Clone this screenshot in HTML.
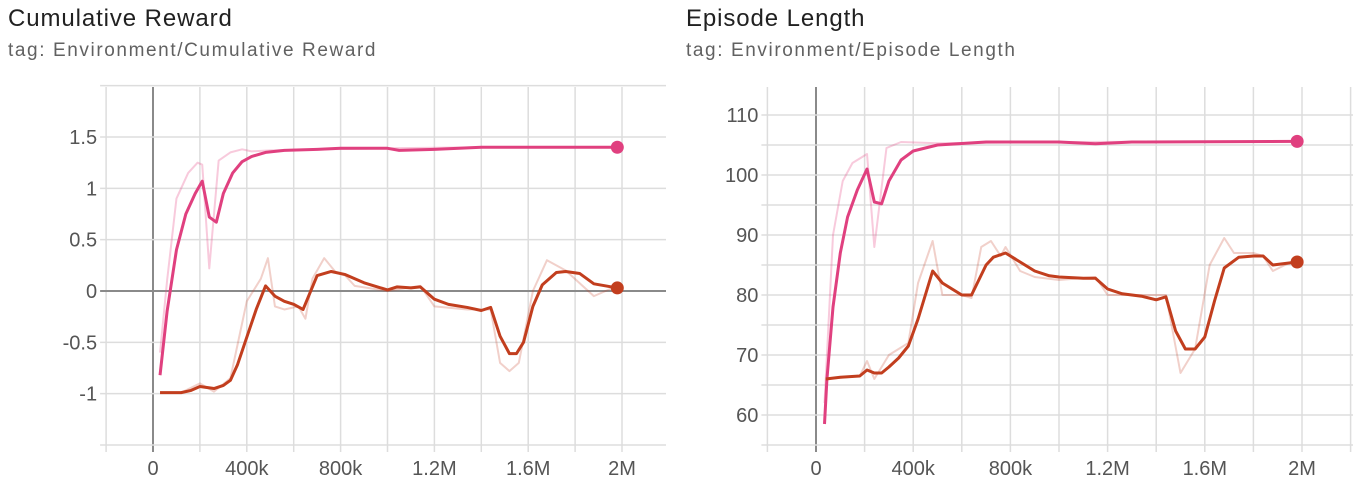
<!DOCTYPE html>
<html><head><meta charset="utf-8"><style>
html,body{margin:0;padding:0;background:#fff;width:1360px;height:496px;overflow:hidden;font-family:"Liberation Sans",sans-serif}
.t{position:absolute;font-size:24px;letter-spacing:0.9px;color:#212121}
.s{position:absolute;font-size:19px;letter-spacing:1.6px;color:#616161}
svg{position:absolute;left:0;top:0}
</style></head><body>
<div class="t" style="left:8px;top:5px">Cumulative Reward</div>
<div class="s" style="left:8px;top:40px">tag: Environment/Cumulative Reward</div>
<div class="t" style="left:686px;top:5px">Episode Length</div>
<div class="s" style="left:686px;top:40px">tag: Environment/Episode Length</div>
<svg id="c" width="1360" height="496"></svg>
<script>
const xTickLabels=["0","400k","800k","1.2M","1.6M","2M"];
const rwYTicks=[-1,-0.5,0,0.5,1,1.5];
const rwYLabels=["-1","-0.5","0","0.5","1","1.5"];
const lnYTicks=[60,70,80,90,100,110];
const lnYLabels=["60","70","80","90","100","110"];
// steps in thousands
const rwPinkX=[30,60,100,140,180,210,240,270,300,340,380,420,480,560,700,800,1000,1050,1200,1400,1600,1800,1980];
const rwPinkY=[-0.82,-0.2,0.4,0.75,0.95,1.07,0.72,0.67,0.95,1.15,1.26,1.31,1.35,1.37,1.38,1.39,1.39,1.37,1.38,1.40,1.40,1.40,1.40];
const rwPinkRawX=[30,60,100,150,190,210,240,280,330,380,420,500,700,1000,1400,1980];
const rwPinkRawY=[-0.6,0.1,0.9,1.15,1.25,1.23,0.22,1.27,1.35,1.38,1.36,1.37,1.38,1.39,1.40,1.40];
const rwRedX=[30,120,160,200,230,260,300,330,360,400,440,480,520,560,600,640,700,760,820,900,1000,1040,1100,1140,1200,1260,1340,1400,1440,1480,1520,1550,1580,1620,1660,1720,1760,1820,1880,1980];
const rwRedY=[-0.99,-0.99,-0.97,-0.93,-0.94,-0.95,-0.92,-0.87,-0.72,-0.45,-0.18,0.05,-0.05,-0.1,-0.13,-0.18,0.15,0.19,0.16,0.08,0.01,0.04,0.03,0.04,-0.08,-0.13,-0.16,-0.19,-0.16,-0.44,-0.61,-0.61,-0.5,-0.15,0.06,0.18,0.19,0.17,0.07,0.03];
const rwRedRawX=[30,120,200,260,330,400,460,490,520,560,620,650,680,730,780,820,860,1000,1140,1200,1340,1440,1480,1520,1560,1620,1680,1720,1760,1880,1980];
const rwRedRawY=[-0.99,-0.99,-0.9,-0.98,-0.85,-0.1,0.12,0.32,-0.15,-0.18,-0.15,-0.27,0.12,0.32,0.18,0.15,0.05,0.0,0.05,-0.15,-0.18,-0.18,-0.7,-0.78,-0.7,0.0,0.3,0.25,0.2,-0.05,0.05];
const lnPinkX=[35,45,70,100,130,170,210,240,270,300,350,400,500,700,1000,1150,1300,1980];
const lnPinkY=[58.5,66,78,87,93,97.5,101,95.5,95.2,99,102.5,104,105,105.5,105.5,105.2,105.5,105.6];
const lnPinkRawX=[35,70,110,150,210,240,290,350,500,1000,1980];
const lnPinkRawY=[62,90,99,102,103.5,88,104.5,105.5,105.3,105.5,105.6];
const lnRedX=[40,100,180,210,240,270,300,340,380,420,480,520,560,600,640,700,730,780,840,900,960,1000,1100,1150,1200,1260,1340,1400,1440,1480,1520,1560,1600,1640,1680,1740,1800,1840,1880,1980];
const lnRedY=[66,66.3,66.5,67.5,67,67,68,69.5,71.5,76,84,82,81,80,80,85,86.3,87,85.5,84,83.2,83,82.8,82.8,81,80.2,79.8,79.2,79.7,74,71,71,73,79,84.5,86.3,86.5,86.5,85,85.5];
const lnRedRawX=[40,180,210,240,300,380,420,480,520,600,640,680,720,760,780,840,900,1000,1150,1200,1440,1500,1560,1620,1680,1720,1800,1840,1880,1980];
const lnRedRawY=[66,66.5,69,66,70,72,82,89,80,80,79.5,88,89,86.5,88,84,83,82.5,83,80,80,67,71,85,89.5,87,87,86.5,84,86];

const svg=document.getElementById('c');
const NS='http://www.w3.org/2000/svg';
function mk(tag,attrs,name){const e=document.createElementNS(NS,tag);for(const k in attrs)e.setAttribute(k,attrs[k]);


svg.appendChild(e);return e;}
function chart(cfg){
  const sx=v=>cfg.x0+v/2000*(cfg.x2-cfg.x0);
  const sy=v=>cfg.yA+(v-cfg.vA)/(cfg.vB-cfg.vA)*(cfg.yB-cfg.yA);
  const L=cfg.x0-(cfg.x2-cfg.x0)/10, R=cfg.right, T=87, B=444;
  for(let k=-200;k<=2200;k+=200){const x=sx(k);if(x>R+1)break;
    mk('line',{x1:x,x2:x,y1:T,y2:B+8,stroke:k===0?'#8a8a8a':'#ddd','stroke-width':k===0?2:1.5},cfg.p+'-vgrid');}
  for(let v=cfg.gMin;v<=cfg.gMax+1e-9;v+=cfg.gStep){const y=sy(v);
    mk('line',{x1:L-6,x2:R,y1:y,y2:y,stroke:Math.abs(v)<1e-9&&cfg.zero?'#8a8a8a':'#ddd','stroke-width':Math.abs(v)<1e-9&&cfg.zero?2:1.5},cfg.p+'-hgrid');}
  cfg.yt.forEach((v,i)=>{const t=mk('text',{x:L-9,y:sy(v)+7,'text-anchor':'end','font-size':20,fill:'#555','font-family':'Liberation Sans'},cfg.p+'-y-tick');t.textContent=cfg.yl[i];});
  xTickLabels.forEach((s,i)=>{const t=mk('text',{x:sx(i*400),y:475,'text-anchor':'middle','font-size':20,fill:'#555','font-family':'Liberation Sans'},cfg.p+'-x-tick');t.textContent=s;});
  const line=(xs,ys,col,w,op,name)=>mk('polyline',{points:xs.map((x,i)=>sx(x)+','+sy(ys[i])).join(' '),fill:'none',stroke:col,'stroke-width':w,opacity:op,'stroke-linejoin':'round'},name);
  line(cfg.prx,cfg.pry,'#e7508a',2,0.3,cfg.p+'-pink-raw');
  line(cfg.rrx,cfg.rry,'#c8432a',2,0.25,cfg.p+'-red-raw');
  line(cfg.px,cfg.py,'#e0407f',3,1,cfg.p+'-pink-line');
  line(cfg.rx,cfg.ry,'#c23e1e',3,1,cfg.p+'-red-line');
  mk('circle',{cx:sx(cfg.px[cfg.px.length-1]),cy:sy(cfg.py[cfg.py.length-1]),r:6.5,fill:'#e0407f'},cfg.p+'-pink-end');
  mk('circle',{cx:sx(cfg.rx[cfg.rx.length-1]),cy:sy(cfg.ry[cfg.ry.length-1]),r:6.5,fill:'#c23e1e'},cfg.p+'-red-end');
}
chart({p:'reward',x0:153,x2:622,right:666,yA:291,vA:0,yB:137,vB:1.5,gMin:-1.5,gMax:2,gStep:0.5,zero:true,yt:rwYTicks,yl:rwYLabels,
  px:rwPinkX,py:rwPinkY,prx:rwPinkRawX,pry:rwPinkRawY,rx:rwRedX,ry:rwRedY,rrx:rwRedRawX,rry:rwRedRawY});
chart({p:'length',x0:816,x2:1302,right:1353,yA:415,vA:60,yB:115,vB:110,gMin:55,gMax:110,gStep:5,zero:false,yt:lnYTicks,yl:lnYLabels,
  px:lnPinkX,py:lnPinkY,prx:lnPinkRawX,pry:lnPinkRawY,rx:lnRedX,ry:lnRedY,rrx:lnRedRawX,rry:lnRedRawY});
</script>
</body></html>
